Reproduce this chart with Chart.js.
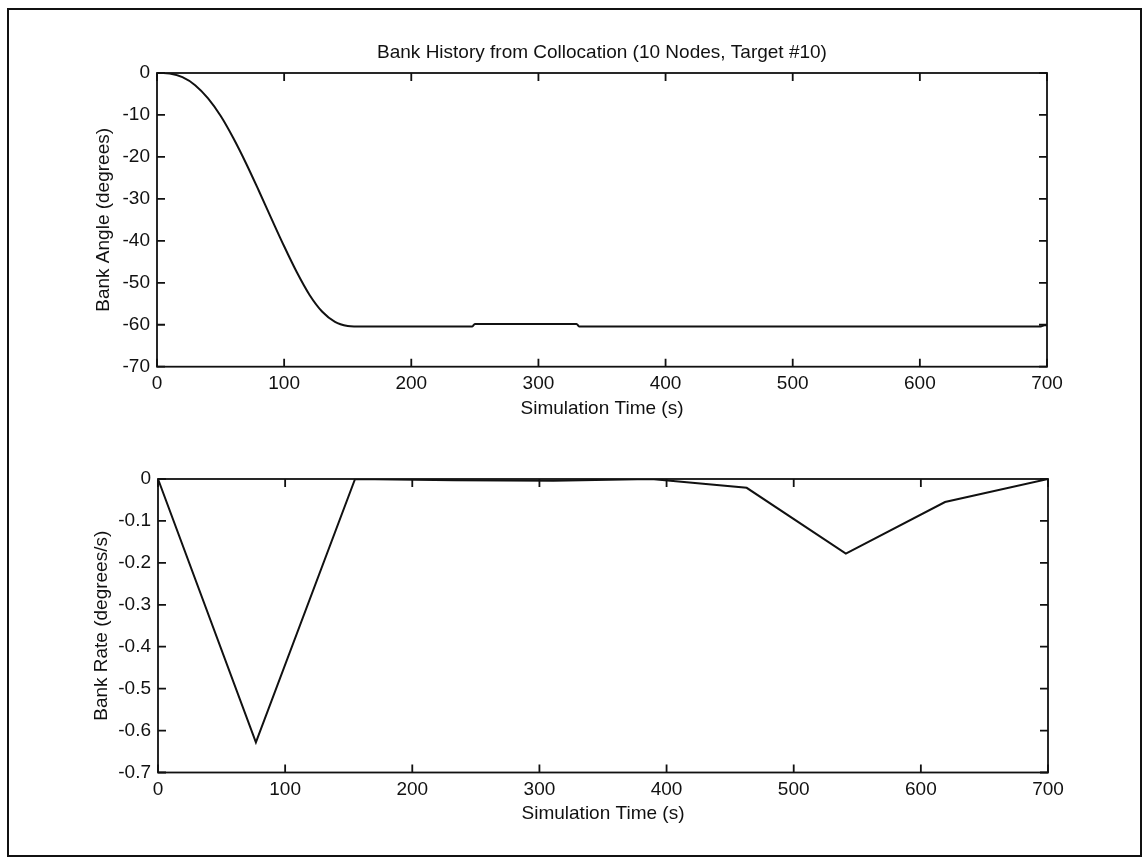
<!DOCTYPE html>
<html>
<head>
<meta charset="utf-8">
<script src="https://cdn.jsdelivr.net/npm/chart.js@4.4.1/dist/chart.umd.min.js"></script>
<style>
body { margin: 0; background: #fff; }
#page { position: relative; width: 1148px; height: 867px; overflow: hidden; background: #fff; }
#frame { position: absolute; left: 7px; top: 8px; width: 1131px; height: 845px; border: 2px solid #111; }
.holder { position: absolute; left: 0; width: 1148px; }
</style>
</head>
<body>
<div id="page">
  <div id="frame"></div>
  <div class="holder" style="top:0;height:440px"><canvas id="angleChart" width="1148" height="440"></canvas></div>
  <div class="holder" style="top:440px;height:427px"><canvas id="rateChart" width="1148" height="427"></canvas></div>
</div>
<script>
// bank angle history (s, degrees)
const angleTimes = [0, 5, 10, 20, 30, 40, 50, 60, 70, 80, 90, 100, 110, 120, 130, 140, 150, 155, 200, 248, 250, 330, 332, 695, 698, 700];
const bankAngle = [0, 0, -0.1, -1.0, -2.9, -6.0, -10.2, -15.5, -21.5, -28.0, -34.7, -41.3, -47.5, -52.9, -56.9, -59.3, -60.3, -60.4, -60.4, -60.4, -59.8, -59.8, -60.4, -60.4, -60.1, -60.1];

// bank rate at the collocation nodes (s, degrees/s)
const rateTimes = [0, 77, 155, 233, 311, 388, 463, 541, 619, 700];
const bankRate = [0, -0.628, 0, -0.003, -0.004, 0, -0.021, -0.178, -0.055, 0];

const timeTicks = [0, 100, 200, 300, 400, 500, 600, 700];

const FONT = { family: '"Liberation Sans", Arial, Helvetica, sans-serif', size: 19 };
const INK = '#111';

// matlab style box with inward ticks + optional title
const boxTicks = {
    id: 'boxTicks',
    afterDraw(chart, args, opts) {
        const {ctx, chartArea: a, scales: {x, y}} = chart;
        ctx.save();
        ctx.strokeStyle = INK;
        ctx.lineWidth = 1.8;
        ctx.strokeRect(a.left, a.top, a.right - a.left, a.bottom - a.top);
        ctx.beginPath();
        x.ticks.forEach(t => {
            const px = x.getPixelForValue(t.value);
            ctx.moveTo(px, a.bottom); ctx.lineTo(px, a.bottom - 8);
            ctx.moveTo(px, a.top); ctx.lineTo(px, a.top + 8);
        });
        y.ticks.forEach(t => {
            const py = y.getPixelForValue(t.value);
            ctx.moveTo(a.left, py); ctx.lineTo(a.left + 8, py);
            ctx.moveTo(a.right, py); ctx.lineTo(a.right - 8, py);
        });
        ctx.stroke();
        if (opts.title) {
            ctx.fillStyle = INK;
            ctx.font = FONT.size + 'px ' + FONT.family;
            ctx.textAlign = 'center';
            ctx.textBaseline = 'alphabetic';
            ctx.fillText(opts.title, (a.left + a.right) / 2, opts.titleY);
        }
        ctx.restore();
    }
};

function makeChart(id, xs, ys, cfg) {
    const pts = xs.map((t, i) => ({x: t, y: ys[i]}));
    return new Chart(document.getElementById(id), {
        type: 'line',
        data: {
            datasets: [{
                data: pts,
                borderColor: INK,
                borderWidth: 2,
                pointRadius: 0,
                fill: false,
                cubicInterpolationMode: cfg.smooth ? 'monotone' : 'default',
                tension: 0
            }]
        },
        options: {
            responsive: false,
            animation: false,
            layout: { padding: cfg.padding },
            plugins: {
                legend: { display: false },
                tooltip: { enabled: false },
                boxTicks: { title: cfg.title, titleY: cfg.titleY }
            },
            scales: {
                x: {
                    type: 'linear',
                    min: 0, max: 700,
                    afterBuildTicks: s => { s.ticks = timeTicks.map(v => ({value: v})); },
                    afterFit: s => { s.height = 60; },
                    grid: { display: false, drawTicks: false },
                    border: { display: false },
                    ticks: { color: INK, font: FONT, padding: 6, maxRotation: 0 },
                    title: { display: true, text: 'Simulation Time (s)', color: INK, font: FONT,
                             padding: { top: 0, bottom: cfg.xTitlePad } }
                },
                y: {
                    min: cfg.yMin, max: 0,
                    afterBuildTicks: s => { s.ticks = cfg.yTicks.map(v => ({value: v})); },
                    afterFit: s => { s.width = cfg.yWidth; },
                    grid: { display: false, drawTicks: false },
                    border: { display: false },
                    ticks: { color: INK, font: FONT, padding: 7, callback: cfg.yFmt },
                    title: { display: true, text: cfg.yTitle, color: INK, font: FONT,
                             padding: { top: cfg.yTitlePad, bottom: 0 } }
                }
            }
        },
        plugins: [boxTicks]
    });
}

const angleTicks = [-70, -60, -50, -40, -30, -20, -10, 0];
const rateTicks = [-0.7, -0.6, -0.5, -0.4, -0.3, -0.2, -0.1, 0];

makeChart('angleChart', angleTimes, bankAngle, {
    smooth: true,
    padding: { left: 0, right: 101, top: 73, bottom: 13.3 },
    title: 'Bank History from Collocation (10 Nodes, Target #10)',
    titleY: 58,
    xTitlePad: 7,
    yMin: -70, yTicks: angleTicks, yWidth: 157,
    yFmt: v => String(v),
    yTitle: 'Bank Angle (degrees)', yTitlePad: 92
});

makeChart('rateChart', rateTimes, bankRate, {
    smooth: false,
    padding: { left: 0, right: 100, top: 39, bottom: 34.5 },
    xTitlePad: 7,
    yMin: -0.7, yTicks: rateTicks, yWidth: 158,
    yFmt: v => (v === 0 ? '0' : v.toFixed(1)),
    yTitle: 'Bank Rate (degrees/s)', yTitlePad: 90
});
</script>
</body>
</html>
